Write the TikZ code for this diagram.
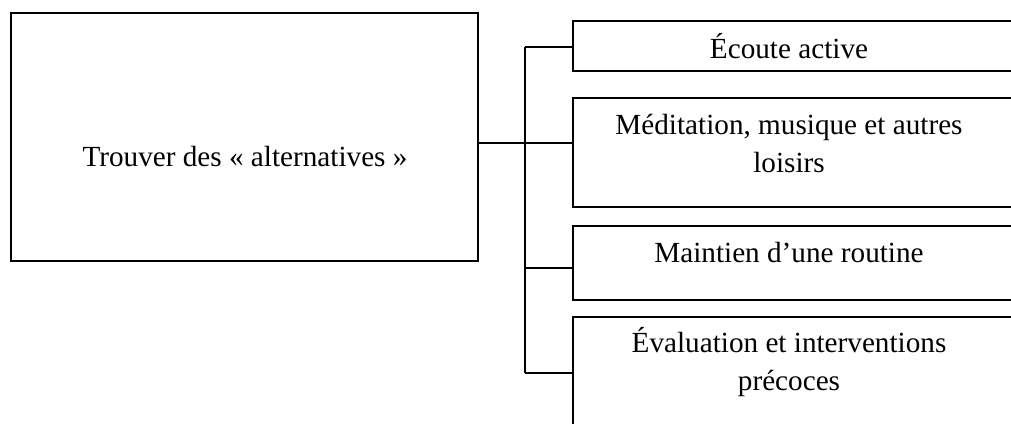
\documentclass[tikz,border=0pt]{standalone}
\usepackage{fontspec}
\setmainfont{Liberation Serif}
\usetikzlibrary{positioning}
\tikzset{
    box/.style={draw, line width=.75pt, rectangle, inner sep=0pt},
    lbl/.style={anchor=base, align=center, inner sep=0pt,
        font=\fontsize{14.6}{19}\selectfont},
    link/.style={line width=.75pt},
}
\begin{document}
\begin{tikzpicture}[x=.5pt, y=-.5pt]
    \useasboundingbox (0,0) rectangle (1011,423);
    \clip (0,0) rectangle (1011,423);
    % main box and the four boxes on the right (cut at the page edge)
    \node[box, minimum width=233.5pt, minimum height=124pt] (main)
        at (244.5,137) {};
    \node[box, minimum width=223.5pt, minimum height=25pt] (b1)
        at (796.5,46) {};
    \node[box, minimum width=223.5pt, minimum height=54.5pt] (b2)
        at (796.5,152.5) {};
    \node[box, minimum width=223.5pt, minimum height=37pt] (b3)
        at (796.5,263) {};
    \node[box, minimum width=223.5pt, minimum height=61.5pt] (b4)
        at (796.5,378.5) {};
    % texts (base = last line)
    \node[lbl] (tmain) at (245,166) {Trouver des «~alternatives~»};
    \node[lbl] (t1) at (789,58) {Écoute active};
    \node[lbl] (t2) at (789,172) {Méditation, musique et autres\\loisirs};
    \node[lbl] (t3) at (789,262) {Maintien d’une routine};
    \node[lbl] (t4) at (789,390) {Évaluation et interventions\\précoces};
    % bracket
    \coordinate (j1) at (525,47);
    \coordinate (j2) at (525,143);
    \coordinate (j3) at (525,268);
    \coordinate (j4) at (525,373);
    \draw[link] (j1) -- (j4);
    \draw[link] (main.east |- j2) -- (j2 -| b2.west);
    \draw[link] (j1) -- (j1 -| b1.west);
    \draw[link] (j3) -- (j3 -| b3.west);
    \draw[link] (j4) -- (j4 -| b4.west);
\end{tikzpicture}
\end{document}
